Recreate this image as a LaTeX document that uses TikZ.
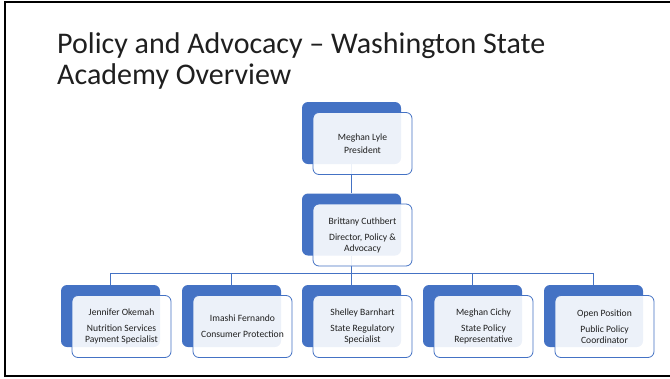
\documentclass[tikz,border=0pt]{standalone}
\usepackage{fontspec}
\setmainfont{Carlito}
\definecolor{acblue}{HTML}{4472C4}
\definecolor{actext}{HTML}{1F1F1F}

\tikzset{
  backbox/.style={fill=acblue, rounded corners=6pt, minimum width=99pt, minimum height=62pt, inner sep=0pt},
  frontbox/.style={draw=acblue, line width=0.8pt, fill=white, fill opacity=0.9, text opacity=1,
    rounded corners=6pt, minimum width=99pt, minimum height=62pt, inner sep=0pt,
    align=center, font=\fontsize{9.6}{11}\selectfont, text=actext},
  link/.style={draw=acblue, line width=0.8pt}
}

\begin{document}
\begin{tikzpicture}[x=1pt, y=-1pt]
  \useasboundingbox (0,0) rectangle (670,378);
  \draw[line width=2pt] (670,2) -- (5,2) -- (5,376) -- (670,376);

  \node[anchor=base west, font=\fontsize{30}{36}\selectfont, text=actext, inner sep=0pt] (title1) at (57,53) {Policy and Advocacy -- Washington State};
  \node[anchor=base west, font=\fontsize{30}{36}\selectfont, text=actext, inner sep=0pt] (title2) at (57,84) {Academy Overview};

  % back boxes
  \node[backbox] (lyleb) at (351.5,133) {};
  \node[backbox] (cuthbertb) at (351.5,224.5) {};
  \node[backbox] (okemahb) at (110.5,316) {};
  \node[backbox] (fernandob) at (231.5,316) {};
  \node[backbox] (barnhartb) at (351.5,316) {};
  \node[backbox] (cichyb) at (472.5,316) {};
  \node[backbox] (openb) at (593.5,316) {};

  % connectors
  \coordinate (bar) at (351.5,273);
  \draw[link] (lyleb.south) -- (cuthbertb.north);
  \draw[link] (cuthbertb.south) -- (bar);
  \foreach \kid in {okemahb,fernandob,barnhartb,cichyb,openb}
    \draw[link] (bar) -| (\kid.north);

  % front boxes
  \node[frontbox] (lyle) at (362.5,143.5) {Meghan Lyle\\[2pt]President};
  \node[frontbox] (cuthbert) at (362.5,235) {Brittany Cuthbert\\[5pt]Director, Policy \&\\Advocacy};
  \node[frontbox] (okemah) at (121.5,326.5) {Jennifer Okemah\\[5pt]Nutrition Services\\Payment Specialist};
  \node[frontbox] (fernando) at (242.5,326.5) {Imashi Fernando\\[5pt]Consumer Protection};
  \node[frontbox] (barnhart) at (362.5,326.5) {Shelley Barnhart\\[5pt]State Regulatory\\Specialist};
  \node[frontbox] (cichy) at (483.5,326.5) {Meghan Cichy\\[5pt]State Policy\\Representative};
  \node[frontbox] (open) at (604.5,326.5) {Open Position\\[5pt]Public Policy\\Coordinator};
\end{tikzpicture}
\end{document}
